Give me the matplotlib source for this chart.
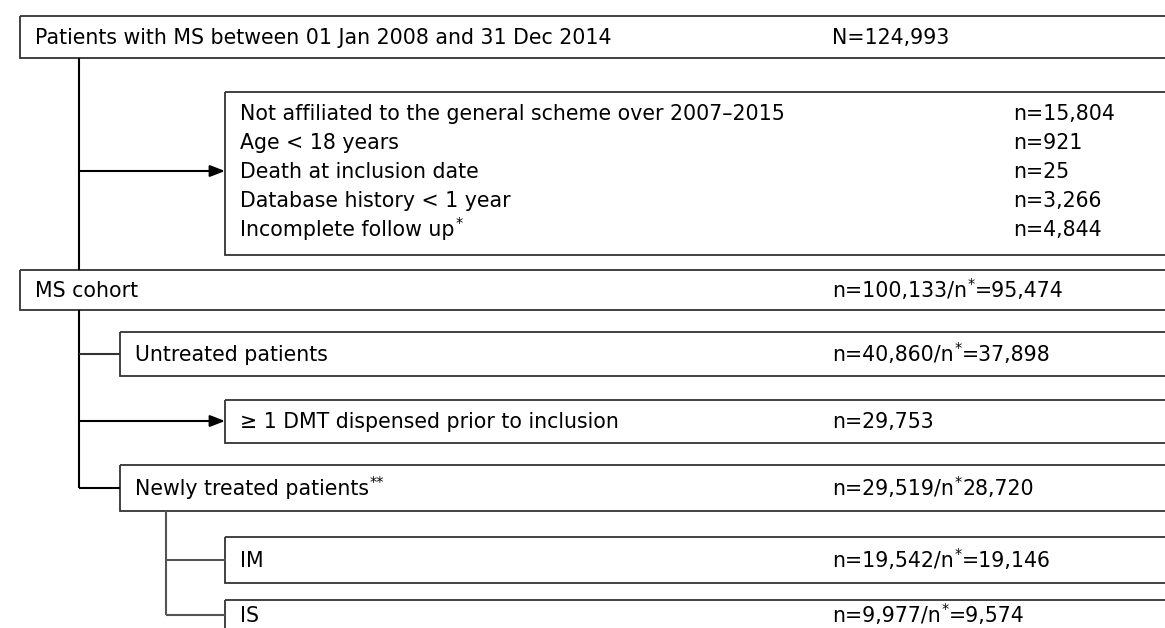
import re
import matplotlib.pyplot as plt
from matplotlib.patches import Rectangle

# flowchart content ("*" marks are drawn as small raised asterisks)
top_label = "Patients with MS between 01 Jan 2008 and 31 Dec 2014"
top_count = "N=124,993"

excl_labels = ["Not affiliated to the general scheme over 2007\u20132015",
               "Age < 18 years",
               "Death at inclusion date",
               "Database history < 1 year",
               "Incomplete follow up*"]
excl_counts = ["n=15,804", "n=921", "n=25", "n=3,266", "n=4,844"]

cohort_labels = ["MS cohort",
                 "Untreated patients",
                 "\u2265 1 DMT dispensed prior to inclusion",
                 "Newly treated patients**",
                 "IM",
                 "IS"]
cohort_counts = ["n=100,133/n*=95,474",
                 "n=40,860/n*=37,898",
                 "n=29,753",
                 "n=29,519/n*28,720",
                 "n=19,542/n*=19,146",
                 "n=9,977/n*=9,574"]

fig = plt.figure(figsize=(11.65, 6.28), dpi=100)
ax = fig.add_axes([0, 0, 1, 1])
ax.set_xlim(0, 1165)
ax.set_ylim(628, 0)
ax.axis("off")
renderer = fig.canvas.get_renderer()

fs = 14.8
edge = "#333333"
right = 1200
count_x = 832

def rich(x, y, s):
    # plain text with raised small asterisks
    for part in re.split(r"(\*+)", s):
        if not part:
            continue
        if part.startswith("*"):
            t = ax.text(x + 1, y - 9, part, fontsize=fs * 0.7, va="baseline")
        else:
            t = ax.text(x, y, part, fontsize=fs, va="baseline")
        bb = t.get_window_extent(renderer)
        x = x + bb.width + (1 if part.startswith("*") else 0)

def box(x, y0, y1):
    ax.add_patch(Rectangle((x, y0), right - x, y1 - y0, fill=False,
                           edgecolor=edge, linewidth=1.3, clip_on=True))

def line(xs, ys, c="black"):
    ax.plot(xs, ys, color=c, linewidth=1.5, solid_capstyle="butt")

def arrow(x0, x1, y):
    ax.annotate("", xy=(x1, y), xytext=(x0, y),
                arrowprops=dict(arrowstyle="-|>,head_length=0.9,head_width=0.35",
                                color="black", lw=1.5, shrinkA=0, shrinkB=0))

base = 7  # baseline offset below box middle

# top box
box(20, 16, 58)
rich(35, 37 + base, top_label)
rich(count_x, 37 + base, top_count)

# exclusion box
box(225, 92, 255)
ys = [113, 142, 171, 200, 229]
for lab, cnt, y in zip(excl_labels, excl_counts, ys):
    rich(240, y + base, lab)
    rich(1013, y + base, cnt)
line([79, 79], [58, 270])
arrow(79, 225, 171)

# cohort and sub-boxes
boxes = [(20, 270, 310), (120, 332, 376), (225, 400, 443),
         (120, 465, 511), (225, 537, 583), (225, 600, 640)]
for (x, y0, y1), lab, cnt in zip(boxes, cohort_labels, cohort_counts):
    box(x, y0, y1)
    yc = (y0 + y1) / 2 if y1 < 628 else 615
    rich(x + 15, yc + base, lab)
    rich(count_x, yc + base, cnt)

line([79, 79], [310, 488])
line([79, 120], [354, 354], c=edge)
arrow(79, 225, 421)
line([79, 120], [488, 488])
line([166, 166], [511, 615], c="#555555")
line([166, 225], [560, 560], c="#555555")
line([166, 225], [615, 615], c="#555555")

fig.savefig("out.png", dpi=100)
